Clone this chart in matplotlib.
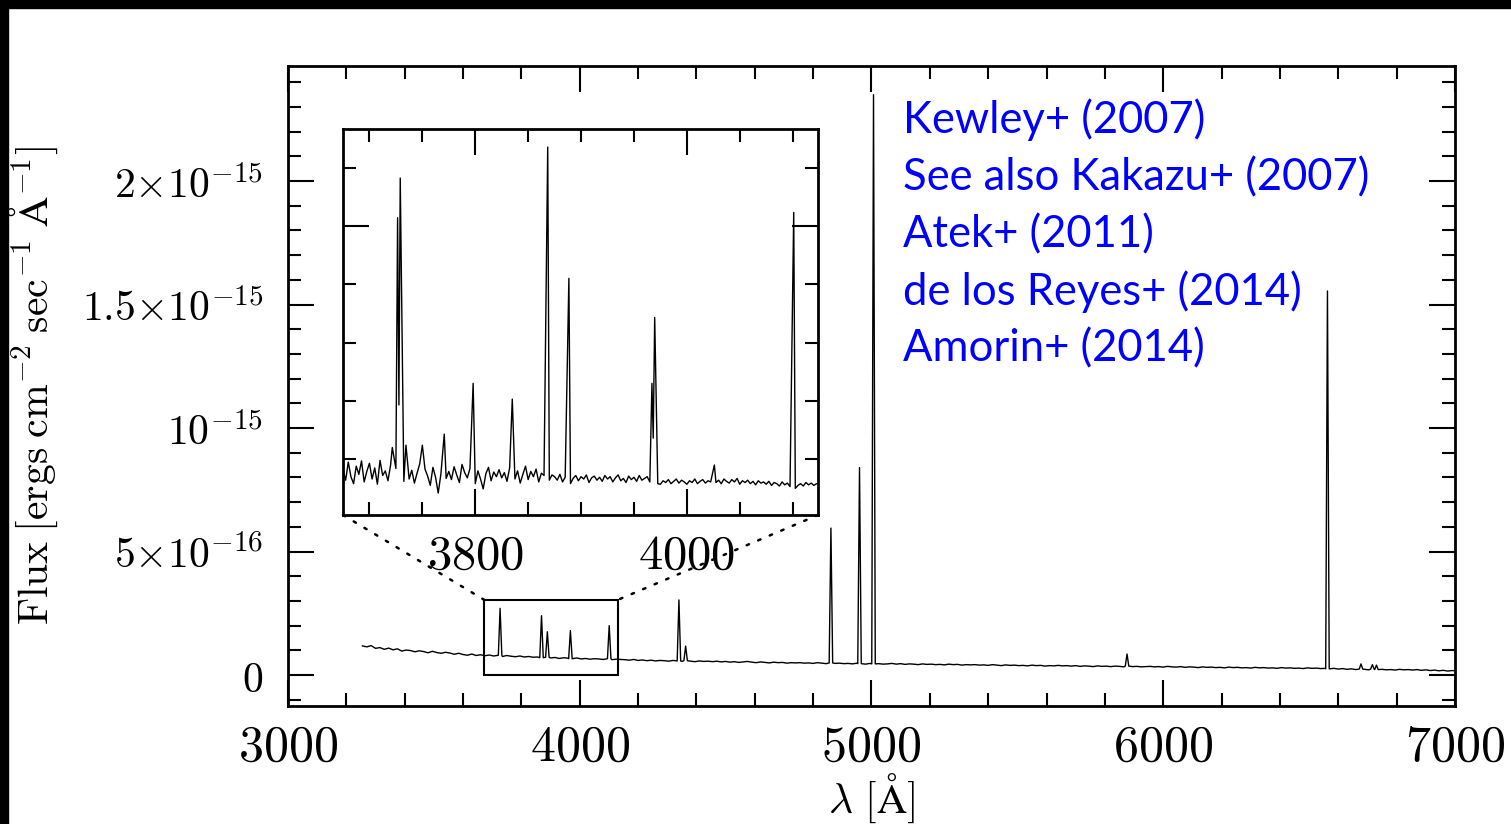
import numpy as np
import matplotlib
matplotlib.use("Agg")
import matplotlib.pyplot as plt
from matplotlib.patches import Rectangle, ConnectionPatch
from matplotlib.ticker import MultipleLocator, FixedLocator, FuncFormatter

plt.rcParams['mathtext.fontset'] = 'cm'
plt.rcParams['font.family'] = 'DejaVu Serif'

UNIT = 1e-16  # all fluxes below are in units of 1e-16 erg/s/cm^2/A

# binned spectrum: continuum sampled every 15 A from 3255 A
main_start, main_step = 3255.0, 15.0
main_cont = [
    1.18, 1.14, 1.19, 1.08, 1.11, 1.04, 1.09, 1.02, 1.06, 0.97, 1.01, 0.99, 0.94, 0.98, 0.95, 0.90, 0.96, 0.91, 0.88, 0.92,
    0.89, 0.84, 0.88, 0.83, 0.80, 0.85, 0.79, 0.82, 0.78, 0.81, 0.77, 0.80, 0.75, 0.79, 0.76, 0.74, 0.77, 0.73, 0.75, 0.72,
    0.73, 0.70, 0.72, 0.69, 0.71, 0.67, 0.70, 0.68, 0.66, 0.69, 0.65, 0.67, 0.64, 0.66, 0.65, 0.63, 0.66, 0.62, 0.64, 0.63,
    0.62, 0.60, 0.63, 0.59, 0.61, 0.58, 0.60, 0.57, 0.59, 0.58, 0.56, 0.59, 0.57, 0.55, 0.58, 0.56, 0.54, 0.57, 0.55, 0.56,
    0.54, 0.56, 0.53, 0.55, 0.52, 0.54, 0.51, 0.53, 0.55, 0.52, 0.50, 0.53, 0.51, 0.49, 0.52, 0.50, 0.51, 0.48, 0.50, 0.49,
    0.50, 0.48, 0.49, 0.47, 0.50, 0.48, 0.46, 0.49, 0.47, 0.48, 0.46, 0.47, 0.45, 0.48, 0.46, 0.44, 0.47, 0.45, 0.46, 0.44,
    0.45, 0.47, 0.44, 0.46, 0.43, 0.45, 0.44, 0.42, 0.45, 0.43, 0.44, 0.42, 0.43, 0.41, 0.44, 0.42, 0.43, 0.40, 0.42, 0.41,
    0.42, 0.40, 0.41, 0.39, 0.42, 0.40, 0.38, 0.41, 0.39, 0.40, 0.38, 0.39, 0.37, 0.40, 0.38, 0.39, 0.36, 0.38, 0.37, 0.39,
    0.37, 0.38, 0.36, 0.38, 0.35, 0.37, 0.36, 0.34, 0.37, 0.35, 0.36, 0.34, 0.36, 0.35, 0.33, 0.36, 0.34, 0.35, 0.33, 0.34,
    0.35, 0.33, 0.34, 0.32, 0.35, 0.33, 0.32, 0.34, 0.31, 0.33, 0.32, 0.30, 0.33, 0.31, 0.32, 0.30, 0.31, 0.29, 0.32, 0.30,
    0.31, 0.29, 0.30, 0.28, 0.31, 0.29, 0.30, 0.28, 0.29, 0.27, 0.30, 0.28, 0.29, 0.27, 0.28, 0.26, 0.29, 0.27, 0.28, 0.26,
    0.27, 0.25, 0.27, 0.24, 0.26, 0.23, 0.25, 0.22, 0.24, 0.23, 0.21, 0.24, 0.22, 0.23, 0.21, 0.22, 0.20, 0.23, 0.21, 0.22,
    0.20, 0.22, 0.19, 0.21, 0.18, 0.20, 0.17, 0.19, 0.16, 0.18, 0.17,
]
main_line_wave = [3727, 3869, 3889, 3968, 4101, 4340, 4363, 4861, 4959, 5007, 5876, 6563, 6678, 6717, 6731]
main_line_peak = [2.70, 2.40, 1.75, 1.80, 2.00, 3.04, 1.17, 5.95, 8.40, 23.5, 0.85, 15.55, 0.45, 0.42, 0.40]

# full-resolution blue end: continuum every 2.5 A from 3675 A
inset_start, inset_step = 3675.0, 2.5
inset_cont = [
    0.82, 0.64, 0.95, 0.70, 0.58, 0.88, 0.74, 0.97, 0.61, 0.79, 0.93, 0.66, 0.85, 0.57, 0.98, 0.72, 0.80, 0.63, 0.90, 0.68,
    0.84, 0.78, 0.70, 0.62, 0.88, 0.66, 0.81, 0.59, 0.76, 0.92, 0.64, 0.83, 0.71, 0.55, 0.86, 0.69, 0.42, 0.74, 0.90, 0.67,
    0.79, 0.65, 0.87, 0.73, 0.60, 0.91, 0.77, 0.68, 0.84, 0.71, 0.58, 0.80, 0.66, 0.49, 0.75, 0.86, 0.63, 0.78, 0.70, 0.82,
    0.68, 0.77, 0.62, 0.85, 0.72, 0.66, 0.80, 0.59, 0.74, 0.88, 0.65, 0.79, 0.70, 0.83, 0.61, 0.76, 0.72, 0.86, 0.64, 0.73,
    0.70, 0.64, 0.74, 0.61, 0.69, 0.76, 0.58, 0.67, 0.72, 0.63, 0.70, 0.66, 0.73, 0.60, 0.68, 0.71, 0.64, 0.69, 0.62, 0.72,
    0.66, 0.70, 0.61, 0.68, 0.73, 0.63, 0.67, 0.60, 0.71, 0.65, 0.69, 0.62, 0.72, 0.64, 0.67, 0.70, 0.61, 0.59, 0.55, 0.58,
    0.57, 0.63, 0.60, 0.65, 0.58, 0.62, 0.66, 0.59, 0.64, 0.61, 0.57, 0.63, 0.60, 0.66, 0.58, 0.62, 0.65, 0.59, 0.63, 0.61,
    0.68, 0.60, 0.64, 0.58, 0.66, 0.62, 0.59, 0.65, 0.61, 0.67, 0.57, 0.63, 0.60, 0.64, 0.58, 0.62, 0.56, 0.63, 0.59, 0.61,
    0.57, 0.62, 0.55, 0.60, 0.58, 0.54, 0.61, 0.56, 0.59, 0.53, 0.60, 0.50, 0.55, 0.58, 0.54, 0.60, 0.56, 0.59, 0.55, 0.58,
    0.57,
]
inset_line_wave = [3721.6, 3726.6, 3727.85, 3729.1, 3734.5, 3750.0, 3770.7, 3798.0, 3835.0,
                   3868.5, 3888.5, 3967.0, 3968.2, 3969.6, 4026.0, 4101.0]
inset_line_peak = [1.20, 5.14, 1.93, 5.82, 1.24, 1.24, 1.43, 2.30, 2.03,
                   6.35, 4.10, 2.30, 1.36, 3.43, 0.90, 5.23]

references = ["Kewley+ (2007)", "See also Kakazu+ (2007)", "Atek+ (2011)",
              "de los Reyes+ (2014)", "Amorin+ (2014)"]

zoom_box = (3673, 4130, 0.0, 3.04e-16)


def build_spectrum(start, step, cont, line_wave, line_peak, half_width, with_base):
    cont = np.asarray(cont, dtype=float)
    wave = start + step * np.arange(len(cont))
    lw = np.asarray(line_wave, dtype=float)
    lp = np.asarray(line_peak, dtype=float)
    dist = np.abs(wave[:, None] - lw[None, :])
    keep = ~np.any(dist <= half_width, axis=1)
    w = [wave[keep], lw]
    f = [cont[keep], lp]
    if with_base:
        base = cont[dist.argmin(axis=0)]
        w += [lw - half_width, lw + half_width]
        f += [base, base]
    w = np.concatenate(w)
    f = np.concatenate(f)
    order = np.argsort(w, kind='stable')
    return w[order], f[order] * UNIT


def style_ticks(a):
    a.tick_params(which='both', direction='in', top=True, right=True, width=1.5)
    a.tick_params(which='major', length=19)
    a.tick_params(which='minor', length=9.5)
    for s in a.spines.values():
        s.set_linewidth(2.0)


wm, fm = build_spectrum(main_start, main_step, main_cont, main_line_wave, main_line_peak, 6.0, True)
wi, fi = build_spectrum(inset_start, inset_step, inset_cont, inset_line_wave, inset_line_peak, 1.25, False)

fig = plt.figure(figsize=(15.11, 8.24), dpi=100)

ax = fig.add_axes([0.1906, 0.1432, 0.7723, 0.7767])
ax.plot(wm, fm, color='black', lw=1.0)
ax.set_xlim(3000, 7000)
ax.set_ylim(-1.255e-16, 24.66e-16)
ax.xaxis.set_major_locator(MultipleLocator(1000))
ax.xaxis.set_minor_locator(MultipleLocator(200))
ax.xaxis.set_major_formatter(FuncFormatter(lambda v, p: f'${v:.0f}$'))
ax.yaxis.set_major_locator(FixedLocator([0, 5e-16, 1e-15, 1.5e-15, 2e-15]))
ax.yaxis.set_minor_locator(MultipleLocator(1e-16))
ax.set_yticklabels([r'$0$', r'$5{\times}10^{-16}$', r'$10^{-15}$',
                    r'$1.5{\times}10^{-15}$', r'$2{\times}10^{-15}$'])
style_ticks(ax)
ax.tick_params(axis='x', labelsize=36, pad=12)
ax.tick_params(axis='y', labelsize=30, pad=18)

ax.set_xlabel(r'$\lambda\ [\mathrm{\AA}]$', fontsize=30, va='center')
ax.xaxis.set_label_coords(0.5, -0.145)
ax.set_ylabel(r'$\mathrm{Flux\;[ergs\;cm^{-2}\;sec^{-1}\;\AA^{-1}]}$', fontsize=30)
ax.yaxis.set_label_coords(-0.1954, 0.5)

x0, x1, y0, y1 = zoom_box
ax.add_patch(Rectangle((x0, y0), x1 - x0, y1 - y0, fill=False, ec='black', lw=1.5, zorder=3))

ax_in = fig.add_axes([0.2270, 0.3750, 0.3144, 0.4684])
ax_in.plot(wi, fi, color='black', lw=1.0)
ax_in.set_xlim(3675, 4124)
ax_in.set_ylim(0.043e-16, 6.66e-16)
ax_in.xaxis.set_major_locator(MultipleLocator(200))
ax_in.xaxis.set_minor_locator(MultipleLocator(50))
ax_in.xaxis.set_major_formatter(FuncFormatter(lambda v, p: f'${v:.0f}$'))
ax_in.yaxis.set_major_locator(MultipleLocator(5e-16))
ax_in.yaxis.set_minor_locator(MultipleLocator(1e-16))
style_ticks(ax_in)
ax_in.tick_params(axis='x', labelsize=35, pad=12)
ax_in.tick_params(axis='y', labelleft=False)

for corner, bx in ((0, x0), (1, x1)):
    con = ConnectionPatch(xyA=(corner, 0), coordsA=ax_in.transAxes,
                          xyB=(bx, y1), coordsB=ax.transData,
                          color='black', lw=1.8, linestyle=(0, (1, 4)))
    fig.add_artist(con)

for i, txt in enumerate(references):
    fig.text(0.5976, 1 - (133 + 57.2 * i) / 824, txt, color='blue',
             fontsize=31.4, family='Lato', va='baseline')

# dark frame along the top and left edges
fig.patches.append(Rectangle((0, 0), 7.5 / 1511, 1, transform=fig.transFigure,
                             color='black', zorder=10))
fig.patches.append(Rectangle((0, 1 - 7.5 / 824), 1, 7.5 / 824, transform=fig.transFigure,
                             color='black', zorder=10))

fig.savefig('out.png', dpi=100)
